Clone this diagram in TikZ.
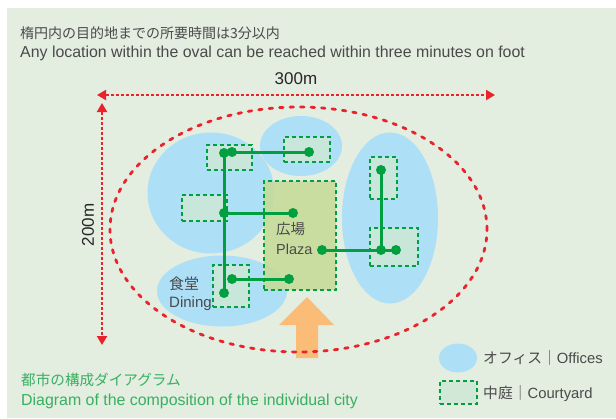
\documentclass[tikz,border=0pt]{standalone}
\usepackage{fontspec}
\setmainfont{Liberation Sans}
\newfontfamily\cjk{Noto Sans CJK JP}
\usetikzlibrary{arrows.meta,shapes.geometric}
\definecolor{bgcol}{HTML}{E3EDE0}
\definecolor{officeblue}{HTML}{ADDFF7}
\definecolor{redline}{HTML}{E8232B}
\definecolor{netgreen}{HTML}{00A040}
\definecolor{courtfill}{HTML}{CFE8D5}
\definecolor{plazafill}{HTML}{C5DB95}
\definecolor{orangearrow}{HTML}{FBBC78}
\definecolor{textgray}{HTML}{4A4A4A}
\definecolor{captiongreen}{HTML}{38B060}
\tikzset{
  office/.style={ellipse, fill=officeblue, draw=none, inner sep=0pt},
  court/.style={rectangle, draw=netgreen, fill=courtfill, fill opacity=0.85, line width=2pt, dash pattern=on 4pt off 3pt, inner sep=0pt},
  plazabox/.style={rectangle, draw=netgreen, fill=plazafill, fill opacity=0.85, line width=2pt, dash pattern=on 4pt off 3pt, inner sep=0pt},
  dot/.style={circle, fill=netgreen, inner sep=0pt, minimum size=10pt},
  net/.style={draw=netgreen, line width=3pt},
  dimline/.style={draw=redline, line width=2pt, dash pattern=on 3pt off 2pt, {Triangle[length=9pt,width=10pt]}-{Triangle[length=9pt,width=10pt]}},
  label/.style={text=textgray, inner sep=0pt, anchor=west}
}
\begin{document}
\begin{tikzpicture}[x=1pt,y=-1pt]
\useasboundingbox (0,0) rectangle (616,418);
\fill[bgcol] (7,8) rectangle (616,418);

% titles
\node[label, font=\fontsize{14}{18}\selectfont\cjk] (t1) at (20,33) {楕円内の目的地までの所要時間は3分以内};
\node[label, font=\fontsize{15.9}{18}\selectfont] (t2) at (20,53) {Any location within the oval can be reached within three minutes on foot};
\node[text=black!85, inner sep=0pt, font=\fontsize{17}{20}\selectfont] (w) at (296,79) {300m};
\node[text=black!85, inner sep=0pt, rotate=90, font=\fontsize{17}{20}\selectfont] (h) at (88,225) {200m};

% offices
\node[office, minimum width=127pt, minimum height=121pt] (o1) at (211,193) {};
\node[office, minimum width=82pt, minimum height=60pt] (o2) at (301,146) {};
\node[office, minimum width=96pt, minimum height=171pt] (o3) at (390,218) {};
\node[office, minimum width=130pt, minimum height=71pt] (o4) at (222,291) {};

% courtyards
\node[court, minimum width=45pt, minimum height=25pt] (c1) at (229.5,157.5) {};
\node[court, minimum width=46pt, minimum height=25pt] (c2) at (307,149.5) {};
\node[court, minimum width=45pt, minimum height=26pt] (c3) at (204.5,208) {};
\node[plazabox, minimum width=72pt, minimum height=109pt] (pz) at (300,235.5) {};
\node[court, minimum width=36pt, minimum height=42pt] (c5) at (231,286) {};
\node[court, minimum width=27pt, minimum height=42pt] (c6) at (383.5,178) {};
\node[court, minimum width=48pt, minimum height=38pt] (c7) at (394,247) {};

% network dots
\node[dot] (d1) at (224,153) {};
\node[dot] (d2) at (232,152) {};
\node[dot] (d3) at (309,152) {};
\node[dot] (d4) at (224,213) {};
\node[dot] (d5) at (293,213) {};
\node[dot] (d6) at (224,293) {};
\node[dot] (d7) at (232,279) {};
\node[dot] (d8) at (289,279) {};
\node[dot] (d9) at (322,250) {};
\node[dot] (d10) at (381,250) {};
\node[dot] (d11) at (396,250) {};
\node[dot] (d12) at (381,170) {};

\draw[net] (d1.center) -- (d6.center);
\draw[net] (d2.center) -- (d3.center);
\draw[net] (d4.center) -- (d5.center);
\draw[net] (d7.center) -- (d8.center);
\draw[net] (d9.center) -- (d11.center);
\draw[net] (d12.center) -- (d10.center);

% labels
\node[label, align=left, font=\fontsize{14.5}{20}\selectfont] (pl) at (276,238) {{\cjk 広場}\\Plaza};
\node[label, align=left, font=\fontsize{15}{18}\selectfont] (dn) at (169,294) {{\cjk 食堂}\\Dining};

% orange arrow
\fill[orangearrow] (307,297) -- (334,325) -- (318,325) -- (318,358) -- (296,358) -- (296,325) -- (279,325) -- cycle;

% red dashed oval
\node[ellipse, draw=redline, line width=2.8pt, line cap=round, dash pattern=on 3.5pt off 7pt, minimum width=377pt, minimum height=245pt, inner sep=0pt] (oval) at (298.5,229.5) {};

% dimension arrows
\coordinate (wl) at (97,95);
\coordinate (wr) at (495,95);
\coordinate (ht) at (102,103);
\coordinate (hb) at (102,345);
\draw[dimline] (wl) -- (wr);
\draw[dimline] (ht) -- (hb);

% legend
\node[office, minimum width=38pt, minimum height=29pt] (lo) at (458,358) {};
\node[court, minimum width=37pt, minimum height=23pt] (lc) at (458.5,392.5) {};
\node[label, font=\fontsize{14.8}{16}\selectfont] (lot) at (483,358) {{\cjk オフィス｜}Offices};
\node[label, font=\fontsize{14.8}{16}\selectfont] (lct) at (483,394) {{\cjk 中庭｜}Courtyard};

% caption
\node[label, text=captiongreen, font=\fontsize{14.6}{16}\selectfont\cjk] (cap1) at (21,380) {都市の構成ダイアグラム};
\node[label, text=captiongreen, font=\fontsize{15.9}{16}\selectfont] (cap2) at (21,401) {Diagram of the composition of the individual city};
\end{tikzpicture}
\end{document}
